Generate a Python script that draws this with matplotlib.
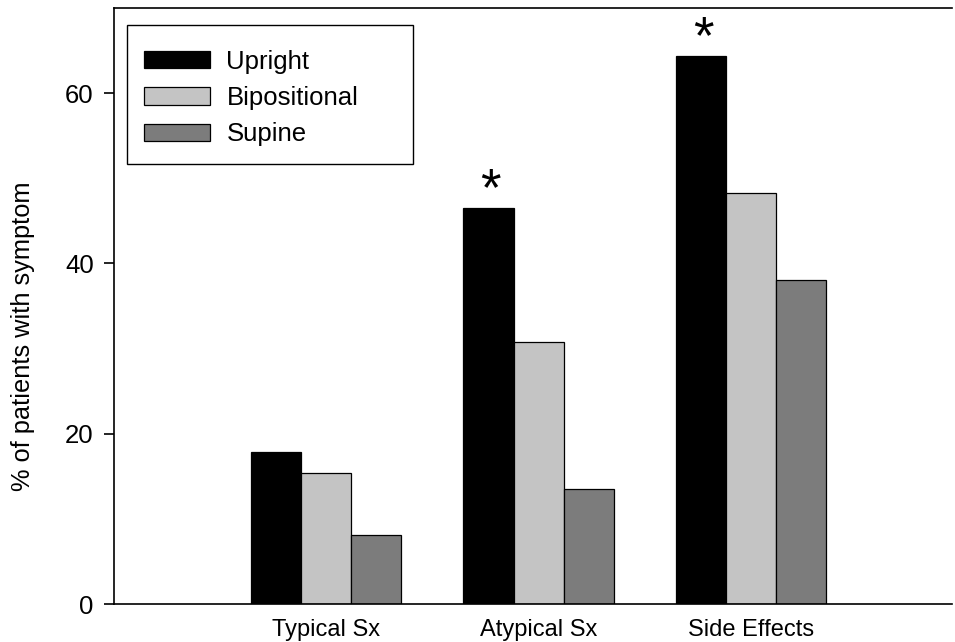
import matplotlib

matplotlib.use("Agg")
import matplotlib.pyplot as plt
import numpy as np
from matplotlib.patches import Rectangle

plt.rcParams["font.family"] = ["Liberation Sans", "DejaVu Sans"]

categories = ["Typical Sx", "Atypical Sx", "Side Effects"]
positions = ["Upright", "Bipositional", "Supine"]
upright = [17.8, 46.5, 64.4]
bipositional = [15.4, 30.8, 48.3]
supine = [8.1, 13.5, 38.0]
significant = [False, True, True]  # asterisk above the Upright bar

colors = ["#000000", "#c4c4c4", "#7c7c7c"]


def main() -> None:
    fig = plt.figure(figsize=(9.55, 6.42), dpi=100)
    ax = fig.add_axes([114 / 955, 38 / 642, 838 / 955, 596 / 642])

    x = np.arange(len(categories))
    w = 0.236
    series = [upright, bipositional, supine]
    for i, (vals, name, c) in enumerate(zip(series, positions, colors)):
        ax.bar(x + (i - 1) * w, vals, width=w, color=c, edgecolor="black",
               linewidth=0.9, label=name)

    for xi, v, sig in zip(x, upright, significant):
        if sig:
            ax.annotate("*", (xi - w, v), xytext=(1.5, -6), textcoords="offset points",
                        ha="center", va="bottom", fontsize=38)

    ax.set_xlim(-1, 2.947)
    ax.set_ylim(0, 70)
    ax.set_yticks([0, 20, 40, 60])
    ax.set_xticks(x)
    ax.set_xticklabels(categories, fontsize=17)
    ax.tick_params(axis="x", length=0, pad=11)
    ax.tick_params(axis="y", length=7.5, width=1.2, labelsize=18.5, pad=7)
    ax.set_ylabel("% of patients with symptom", fontsize=18.3)
    ax.yaxis.set_label_coords(-0.094, 0.45)
    ax.spines["right"].set_visible(False)
    for s in ("left", "bottom", "top"):
        ax.spines[s].set_linewidth(1.2)

    # legend frame is drawn separately: the original has a wide empty margin on the right
    ax.add_patch(Rectangle((0.0155, 0.7383), 0.3413, 0.2332, transform=ax.transAxes,
                           facecolor="white", edgecolor="black", linewidth=1.0, zorder=4))
    leg = ax.legend(loc="upper left", bbox_to_anchor=(0.0358, 0.930),
                    fontsize=18.5, frameon=False,
                    handlelength=2.55, handleheight=0.66, labelspacing=0.48,
                    borderpad=0, handletextpad=0.66, borderaxespad=0)
    leg.set_zorder(5)
    for p in leg.get_patches():
        p.set_linewidth(0.9)

    fig.savefig("out.png", dpi=100)
    plt.close(fig)


if __name__ == "__main__":
    main()
